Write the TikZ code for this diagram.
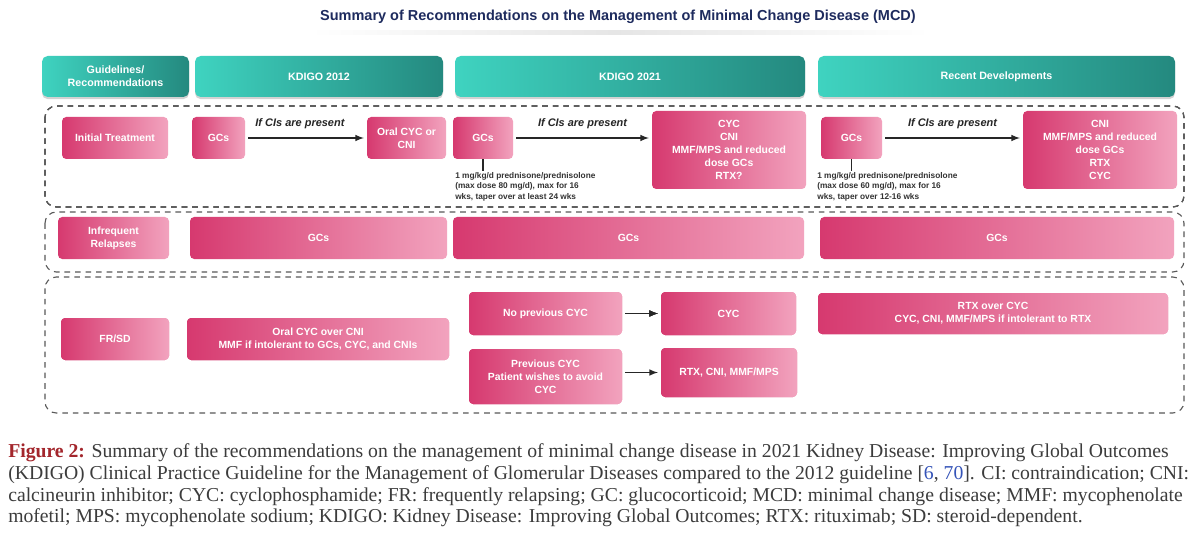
\documentclass[tikz,border=0pt]{standalone}
\usepackage{fontspec}
\setmainfont{Liberation Serif}
\setsansfont{Liberation Sans}
\newfontfamily\capfont{Liberation Serif}
\usetikzlibrary{shadows}
\definecolor{pinkD}{HTML}{D6396F}
\definecolor{pinkL}{HTML}{F2A3BE}
\definecolor{tealL}{HTML}{3FD3C0}
\definecolor{tealD}{HTML}{24897F}
\definecolor{navy}{HTML}{1E2B5E}
\definecolor{capred}{HTML}{A3262C}
\definecolor{capgray}{HTML}{3C3C3C}
\definecolor{reflink}{HTML}{3453B8}
\tikzset{
  pk/.style={rounded corners=3pt,left color=pinkD,right color=pinkL,text=white,align=center,inner sep=1pt,
    font=\sffamily\bfseries\fontsize{7.4}{9.2}\selectfont},
  hd/.style={rounded corners=4pt,left color=tealL,right color=tealD,text=white,align=center,inner sep=1pt,
    font=\sffamily\bfseries\fontsize{7.6}{9.2}\selectfont,
    drop shadow={opacity=.35,shadow xshift=0pt,shadow yshift=-1.5pt}},
  grp/.style={draw=black!65,dash pattern=on 4pt off 3.5pt,line width=.8pt,rounded corners=8pt},
  arr/.style={-latex,line width=1.1pt,black!85,shorten <=2pt,shorten >=2pt},
  cis/.style={above=3pt,font=\sffamily\bfseries\itshape\fontsize{7.8}{9}\selectfont},
  note/.style={anchor=north west,align=left,inner sep=0,text=black!80,font=\sffamily\bfseries\fontsize{5.9}{7.4}\selectfont}
}
\newcommand\bx[7][pk]{\node[#1,minimum width={(#5-#3)*0.025cm},minimum height={(#6-#4)*0.025cm}](#2)at({(#3+#5)/2},{(#4+#6)/2}){#7};}
\begin{document}
\begin{tikzpicture}[x=0.025cm,y=-0.025cm]
\useasboundingbox(0,0)rectangle(1200,537);
\fill[white](0,0)rectangle(1200,537);
\node[font=\sffamily\bfseries\fontsize{10.3}{12}\selectfont,text=navy](title)at(618,17){Summary of Recommendations on the Management of Minimal Change Disease (MCD)};
\shade[left color=white,right color=white,middle color=black!10](310,31)rectangle(930,35);
\bx[hd]{h0}{42}{56}{189}{97}{Guidelines/\\Recommendations}
\foreach \n/\a/\b/\t in {h1/195/443/KDIGO 2012,h2/455/805/KDIGO 2021,h3/818/1175/Recent Developments}
  \bx[hd]{\n}{\a}{56}{\b}{97}{\t}
\draw[grp](45,106)rectangle(1184,207);
\draw[grp](45,212)rectangle(1184,272);
\draw[grp](45,277)rectangle(1184,413);
\bx{it}{62}{117}{168}{159}{Initial Treatment}
\bx{g1}{192}{117}{245}{159}{GCs}
\bx{o1}{367}{117}{446}{159}{Oral CYC or\\CNI}
\bx{g2}{453}{117}{513}{159}{GCs}
\bx{c2}{652}{111}{806}{189}{CYC\\CNI\\MMF/MPS and reduced\\dose GCs\\RTX?}
\bx{g3}{821}{117}{882}{159}{GCs}
\bx{c3}{1023}{111}{1177}{189}{CNI\\MMF/MPS and reduced\\dose GCs\\RTX\\CYC}
\node[note](n2)at(455,172){1 mg/kg/d prednisone/prednisolone\\(max dose 80 mg/d), max for 16\\wks, taper over at least 24 wks};
\node[note](n3)at(817,172){1 mg/kg/d prednisone/prednisolone\\(max dose 60 mg/d), max for 16\\wks, taper over 12-16 wks};
\draw[arr](g1)--node[cis,pos=.45]{If CIs are present}(o1);
\draw[arr](g2)--node[cis]{If CIs are present}(g2-|c2.west);
\draw[arr](g3)--node[cis]{If CIs are present}(g3-|c3.west);
\draw[line width=1.2pt,black!85,shorten >=1pt](g2)--(g2|-n2.north);
\draw[line width=1.2pt,black!85,shorten >=1pt](g3)--(g3|-n3.north);
\bx{ir}{58}{217}{169}{259}{Infrequent\\Relapses}
\foreach \n/\a/\b in {r1/190/447,r2/453/804,r3/820/1174}
  \bx{\n}{\a}{217}{\b}{259}{GCs}
\bx{fs}{61}{318}{169}{360}{FR/SD}
\bx{f1}{187}{318}{449}{360}{Oral CYC over CNI\\MMF if intolerant to GCs, CYC, and CNIs}
\bx{np}{469}{292}{622}{335}{No previous CYC}
\bx{cy}{661}{292}{796}{335}{CYC}
\bx{pv}{469}{349}{622}{404}{Previous CYC\\Patient wishes to avoid\\CYC}
\bx{rt}{661}{348}{797}{397}{RTX, CNI, MMF/MPS}
\bx{f3}{818}{293}{1168}{334}{RTX over CYC\\CYC, CNI, MMF/MPS if intolerant to RTX}
\draw[arr](np)--(cy);
\draw[arr](pv.east|-rt)--(rt);
\node[anchor=north west,align=left,inner sep=0,text=capgray,font=\capfont\fontsize{14}{15.6}\selectfont](cap)at(8,443){\textcolor{capred}{\bfseries Figure 2:} Summary of the recommendations on the management of minimal change disease in 2021 Kidney Disease: Improving Global Outcomes\\(KDIGO) Clinical Practice Guideline for the Management of Glomerular Diseases compared to the 2012 guideline [\textcolor{reflink}{6}, \textcolor{reflink}{70}]. CI: contraindication; CNI:\\calcineurin inhibitor; CYC: cyclophosphamide; FR: frequently relapsing; GC: glucocorticoid; MCD: minimal change disease; MMF: mycophenolate\\mofetil; MPS: mycophenolate sodium; KDIGO: Kidney Disease: Improving Global Outcomes; RTX: rituximab; SD: steroid-dependent.};
\end{tikzpicture}
\end{document}
